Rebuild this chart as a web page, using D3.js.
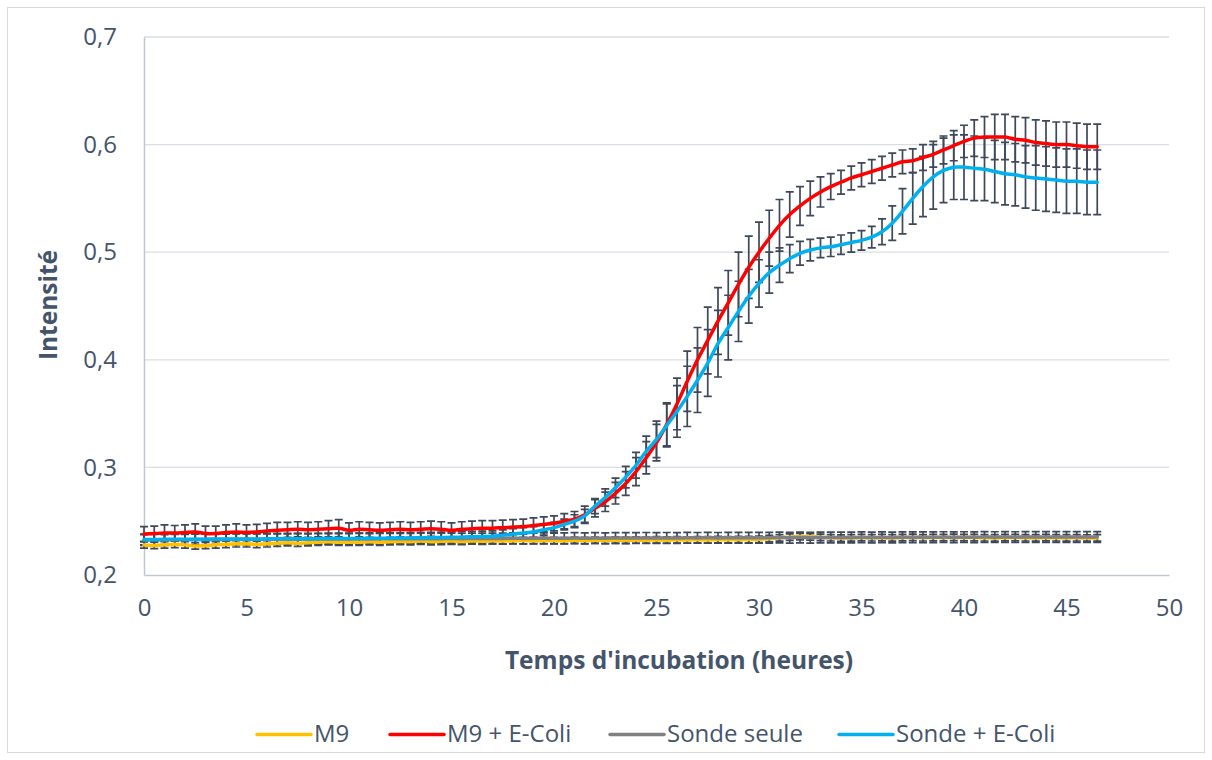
<!DOCTYPE html>
<html>
<head>
<meta charset="utf-8">
<script src="https://cdn.jsdelivr.net/npm/d3@7"></script>
<style>
  html, body { margin: 0; padding: 0; background: #ffffff; }
  svg { display: block; }
  text { font-family: "Open Sans", "Liberation Sans", sans-serif; fill: #44546A; }
</style>
</head>
<body>
<svg id="chart" width="1212" height="760"></svg>
<script>
// ---------- DATA ----------
const hours = [
  0,0.5,1,1.5,2,2.5,3,3.5,4,4.5,5,5.5,6,6.5,7,7.5,8,8.5,9,9.5,
  10,10.5,11,11.5,12,12.5,13,13.5,14,14.5,15,15.5,16,16.5,17,17.5,18,18.5,19,19.5,
  20,20.5,21,21.5,22,22.5,23,23.5,24,24.5,25,25.5,26,26.5,27,27.5,28,28.5,29,29.5,
  30,30.5,31,31.5,32,32.5,33,33.5,34,34.5,35,35.5,36,36.5,37,37.5,38,38.5,39,39.5,
  40,40.5,41,41.5,42,42.5,43,43.5,44,44.5,45,45.5,46,46.5
];

const seriesNames = ["M9", "M9 + E-Coli", "Sonde seule", "Sonde + E-Coli"];
const seriesColors = ["#FFC000", "#FF0000", "#808080", "#00B0F0"];

const m9 = [
  0.228,0.2275,0.228,0.2285,0.228,0.227,0.2275,0.228,0.2285,0.229,
  0.229,0.2285,0.229,0.2295,0.230,0.2295,0.230,0.2305,0.231,0.2305,
  0.2305,0.2305,0.231,0.2305,0.231,0.2312,0.231,0.2315,0.231,0.2313,
  0.2315,0.2312,0.2316,0.2314,0.2318,0.2316,0.2318,0.232,0.2318,0.232,
  0.232,0.2318,0.2322,0.232,0.2323,0.2321,0.2324,0.2322,0.2325,0.2323,
  0.2326,0.2324,0.2327,0.2325,0.2328,0.2326,0.2329,0.2328,0.233,0.2329,
  0.2332,0.2338,0.2345,0.2352,0.2357,0.2355,0.235,0.2346,0.2343,0.2345,
  0.2348,0.2346,0.2347,0.2345,0.2347,0.2349,0.2346,0.2348,0.2347,0.2349,
  0.2347,0.2348,0.2346,0.2345,0.2347,0.2348,0.2346,0.2345,0.2347,0.2346,0.2345,0.2346,0.2344,0.2345
];
const m9Err = [
  0.003,0.003,0.003,0.003,0.003,0.003,0.003,0.003,0.003,0.003,
  0.003,0.003,0.003,0.003,0.003,0.003,0.003,0.003,0.003,0.003,
  0.003,0.003,0.003,0.003,0.003,0.003,0.003,0.003,0.003,0.003,
  0.003,0.003,0.003,0.003,0.003,0.003,0.003,0.003,0.003,0.003,
  0.003,0.003,0.003,0.003,0.003,0.003,0.003,0.003,0.003,0.003,
  0.003,0.003,0.003,0.003,0.003,0.003,0.003,0.003,0.003,0.003,
  0.003,0.003,0.003,0.003,0.003,0.003,0.003,0.003,0.003,0.003,
  0.003,0.003,0.003,0.003,0.003,0.003,0.003,0.003,0.003,0.003,
  0.003,0.003,0.003,0.003,0.003,0.003,0.003,0.003,0.003,0.003,0.003,0.003,0.003,0.003
];

const m9Ecoli = [
  0.238,0.2385,0.239,0.239,0.2395,0.240,0.2385,0.2385,0.2395,0.240,
  0.2395,0.240,0.241,0.2415,0.242,0.2425,0.242,0.2425,0.243,0.2435,
  0.2415,0.2425,0.242,0.2415,0.242,0.2425,0.242,0.2425,0.243,0.2425,
  0.2415,0.2425,0.243,0.2435,0.2435,0.244,0.2445,0.245,0.246,0.247,
  0.248,0.250,0.252,0.256,0.262,0.268,0.276,0.285,0.296,0.309,
  0.323,0.340,0.359,0.380,0.400,0.418,0.436,0.453,0.470,0.486,
  0.500,0.513,0.525,0.535,0.543,0.550,0.556,0.561,0.565,0.569,
  0.572,0.575,0.578,0.581,0.584,0.585,0.588,0.591,0.595,0.599,
  0.603,0.606,0.607,0.607,0.607,0.605,0.604,0.602,0.601,0.600,0.600,0.599,0.598,0.598
];
const m9EcoliErr = [
  0.007,0.007,0.0075,0.007,0.007,0.0075,0.007,0.007,0.007,0.0075,
  0.007,0.007,0.007,0.0075,0.007,0.007,0.007,0.007,0.0075,0.008,
  0.007,0.007,0.007,0.007,0.007,0.007,0.007,0.007,0.007,0.007,
  0.007,0.007,0.007,0.007,0.007,0.007,0.007,0.007,0.007,0.007,
  0.007,0.007,0.007,0.008,0.008,0.009,0.010,0.011,0.013,0.015,
  0.017,0.020,0.024,0.028,0.030,0.031,0.031,0.030,0.030,0.029,
  0.028,0.026,0.024,0.021,0.018,0.016,0.014,0.012,0.011,0.011,
  0.011,0.011,0.011,0.011,0.011,0.011,0.012,0.012,0.013,0.014,
  0.015,0.017,0.019,0.021,0.021,0.021,0.021,0.021,0.021,0.021,0.021,0.021,0.021,0.021
];

const sonde = [
  0.2325,0.2327,0.2326,0.2328,0.2327,0.2329,0.233,0.2329,0.233,0.2331,
  0.2332,0.2331,0.2333,0.2332,0.2333,0.2334,0.2333,0.2334,0.2335,0.2334,
  0.2335,0.2336,0.2335,0.2336,0.2337,0.2336,0.2337,0.2338,0.2337,0.2338,
  0.2339,0.2338,0.2339,0.234,0.2339,0.234,0.2341,0.234,0.2341,0.2342,
  0.2342,0.2341,0.2343,0.2342,0.2343,0.2342,0.2344,0.2343,0.2344,0.2345,
  0.2344,0.2345,0.2344,0.2346,0.2345,0.2346,0.2345,0.2347,0.2346,0.2347,
  0.2346,0.2347,0.2348,0.2347,0.2348,0.2347,0.2349,0.2348,0.2349,0.2348,
  0.235,0.2349,0.235,0.2349,0.2351,0.235,0.2351,0.235,0.2352,0.2351,
  0.2352,0.2351,0.2353,0.2352,0.2353,0.2352,0.2354,0.2353,0.2354,0.2353,0.2354,0.2353,0.2354,0.2354
];
const sondeErr = [
  0.005,0.005,0.005,0.005,0.005,0.005,0.005,0.005,0.005,0.005,
  0.005,0.005,0.005,0.005,0.005,0.005,0.005,0.005,0.005,0.005,
  0.005,0.005,0.005,0.005,0.005,0.005,0.005,0.005,0.005,0.005,
  0.005,0.005,0.005,0.005,0.005,0.005,0.005,0.005,0.005,0.005,
  0.005,0.005,0.005,0.005,0.005,0.005,0.005,0.005,0.005,0.005,
  0.005,0.005,0.005,0.005,0.005,0.005,0.005,0.005,0.005,0.005,
  0.005,0.005,0.005,0.005,0.005,0.005,0.005,0.005,0.005,0.005,
  0.005,0.005,0.005,0.005,0.005,0.005,0.005,0.005,0.005,0.005,
  0.005,0.005,0.005,0.005,0.005,0.005,0.005,0.005,0.005,0.005,0.005,0.005,0.005,0.005
];

const sondeEcoli = [
  0.233,0.233,0.2332,0.2332,0.2333,0.2333,0.2333,0.2334,0.2334,0.2335,
  0.2335,0.2335,0.2336,0.2336,0.2337,0.2337,0.2338,0.2338,0.2339,0.234,
  0.234,0.234,0.2341,0.2342,0.2343,0.2344,0.2345,0.2346,0.2347,0.2348,
  0.235,0.2352,0.2355,0.2358,0.236,0.237,0.238,0.239,0.240,0.242,
  0.244,0.247,0.250,0.255,0.264,0.272,0.281,0.291,0.302,0.315,
  0.326,0.339,0.352,0.366,0.381,0.397,0.415,0.430,0.445,0.459,
  0.471,0.481,0.488,0.494,0.499,0.502,0.504,0.505,0.507,0.509,
  0.511,0.514,0.519,0.527,0.538,0.550,0.561,0.570,0.576,0.579,
  0.579,0.578,0.577,0.575,0.573,0.572,0.570,0.569,0.568,0.567,0.566,0.566,0.565,0.565
];
const sondeEcoliErr = [
  0.005,0.005,0.005,0.005,0.005,0.005,0.005,0.005,0.005,0.005,
  0.005,0.005,0.005,0.005,0.005,0.005,0.005,0.005,0.005,0.005,
  0.005,0.005,0.005,0.005,0.005,0.005,0.005,0.005,0.005,0.005,
  0.005,0.005,0.005,0.005,0.005,0.005,0.005,0.005,0.005,0.005,
  0.005,0.005,0.006,0.006,0.007,0.008,0.009,0.010,0.012,0.014,
  0.017,0.020,0.024,0.028,0.030,0.031,0.031,0.030,0.028,0.025,
  0.022,0.019,0.016,0.013,0.011,0.010,0.009,0.009,0.009,0.009,
  0.009,0.010,0.012,0.016,0.021,0.024,0.028,0.030,0.030,0.030,
  0.030,0.030,0.029,0.029,0.029,0.029,0.029,0.030,0.030,0.030,0.030,0.030,0.030,0.030
];

const xTicks = [0,5,10,15,20,25,30,35,40,45,50];
const yTicks = [0.2,0.3,0.4,0.5,0.6,0.7];
const yTickLabels = ["0,2","0,3","0,4","0,5","0,6","0,7"];
const xTitle = "Temps d'incubation (heures)";
const yTitle = "Intensité";

// ---------- CHART ----------
const svg = d3.select("#chart");
const plot = { left: 144, right: 1169, top: 37, bottom: 575 };

svg.append("rect")
  .attr("x", 7.5).attr("y", 7.5).attr("width", 1197).attr("height", 745)
  .attr("fill", "#ffffff").attr("stroke", "#D9D9D9").attr("stroke-width", 1);

const x = d3.scaleLinear().domain([0, 50]).range([plot.left, plot.right]);
const y = d3.scaleLinear().domain([0.2, 0.7]).range([plot.bottom, plot.top]);

// gridlines
svg.append("g").selectAll("line").data(yTicks.slice(1)).join("line")
  .attr("x1", plot.left).attr("x2", plot.right)
  .attr("y1", d => y(d)).attr("y2", d => y(d))
  .attr("stroke", "#D9DEE6").attr("stroke-width", 1.3);

// axes
const yAxis = d3.axisLeft(y).tickValues(yTicks).tickFormat((d, i) => yTickLabels[i]).tickSize(0).tickPadding(27);
const gy = svg.append("g").attr("transform", `translate(${plot.left},0)`).call(yAxis);
gy.select(".domain").attr("stroke", "#BFC7D3").attr("stroke-width", 1.5);
gy.selectAll("text").style("font-size", "24px").attr("fill", "#44546A");

const xAxis = d3.axisBottom(x).tickValues(xTicks).tickFormat(d => String(d)).tickSize(0).tickPadding(24);
const gx = svg.append("g").attr("transform", `translate(0,${plot.bottom})`).call(xAxis);
gx.select(".domain").attr("stroke", "#BFC7D3").attr("stroke-width", 1.5);
gx.selectAll("text").style("font-size", "24px").attr("fill", "#44546A");

// titles
svg.append("text").attr("x", 679).attr("y", 669).attr("text-anchor", "middle")
  .style("font-size", "24.5px").style("font-weight", "bold").text(xTitle);
svg.append("text").attr("transform", "translate(57,305) rotate(-90)").attr("text-anchor", "middle")
  .style("font-size", "24.5px").style("font-weight", "bold").text(yTitle);

const allSeries = [
  { name: seriesNames[0], color: seriesColors[0], v: m9, e: m9Err },
  { name: seriesNames[1], color: seriesColors[1], v: m9Ecoli, e: m9EcoliErr },
  { name: seriesNames[2], color: seriesColors[2], v: sonde, e: sondeErr },
  { name: seriesNames[3], color: seriesColors[3], v: sondeEcoli, e: sondeEcoliErr }
];

const errColor = "#3E4859";
const capHalf = 4;
allSeries.forEach(s => {
  const g = svg.append("g").attr("stroke", errColor).attr("stroke-width", 1.7).attr("fill", "none");
  const pts = hours.map((h, i) => ({ h, v: s.v[i], e: s.e[i] }));
  g.selectAll("path.eb").data(pts).join("path").attr("class", "eb")
    .attr("d", d => {
      const cx = x(d.h), y1 = y(d.v + d.e), y2 = y(d.v - d.e);
      return `M${cx},${y1}V${y2}M${cx - capHalf},${y1}H${cx + capHalf}M${cx - capHalf},${y2}H${cx + capHalf}`;
    });
});

const line = d3.line().x(d => x(d.h)).y(d => y(d.v)).curve(d3.curveCatmullRom.alpha(0.5));
allSeries.forEach(s => {
  const pts = hours.map((h, i) => ({ h, v: s.v[i] }));
  svg.append("path").datum(pts).attr("d", line)
    .attr("fill", "none").attr("stroke", s.color).attr("stroke-width", 3.5)
    .attr("stroke-linejoin", "round").attr("stroke-linecap", "round");
});

// legend
const legendX = [257, 390, 610, 839];
allSeries.forEach((s, i) => {
  const lx = legendX[i];
  svg.append("line").attr("x1", lx).attr("x2", lx + 54).attr("y1", 734.5).attr("y2", 734.5)
    .attr("stroke", s.color).attr("stroke-width", 3.5).attr("stroke-linecap", "round");
  svg.append("text").attr("x", lx + 57).attr("y", 742).style("font-size", "24px").text(s.name);
});
</script>
</body>
</html>
